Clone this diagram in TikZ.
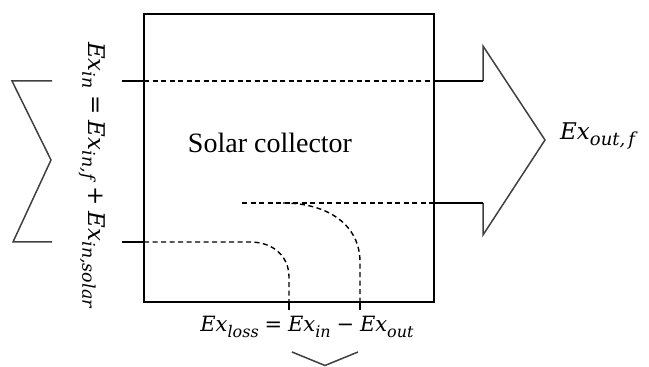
\documentclass[tikz,border=0pt]{standalone}
\usepackage{fontspec}
\setmainfont{Liberation Serif}
\newfontfamily\mfont{DejaVu Serif}
\newcommand\Exs[2][16]{{\mfont\itshape Ex\raisebox{-0.24em}{\fontsize{#1}{18}\selectfont #2}}}
\newcommand\rel[1]{\hspace{0.28em}{\mfont #1}\hspace{0.28em}}
\begin{document}
\begin{tikzpicture}[x=1pt,y=1pt,
  boxline/.style={line width=2.7pt,line join=miter},
  grayline/.style={line width=1.5pt,draw=black!75,line join=miter},
  stub/.style={line width=2.2pt,line cap=butt},
  dashline/.style={line width=1.4pt,dash pattern=on 5pt off 3.5pt},
  mathlbl/.style={inner sep=0pt,font=\fontsize{21}{25}\selectfont},
  biglbl/.style={inner sep=0pt,font=\fontsize{23}{27}\selectfont},
  lbl/.style={inner sep=0pt,font=\fontsize{28}{32}\selectfont}]
\useasboundingbox (0,0) rectangle (649,367);
% collector box
\draw[boxline] (144,353) rectangle (434,65);
% left chevron
\draw[grayline] (52,286) -- (12,286) -- (51,207) -- (13,125) -- (52,125);
\draw[stub] (122,286) -- (144,286);
\draw[stub] (122,125) -- (144,125);
% dashed flows
\draw[dashline] (144,286) -- (434,286);
\draw[dashline] (144,125) -- (250,125) .. controls (274,125) and (289,110) .. (289,90) -- (289,65);
\draw[dashline] (242,164) -- (434,164);
\draw[dashline] (283,164) .. controls (328,164) and (360,142) .. (360,105) -- (360,65);
\draw[line width=1.6pt] (289,65) -- (289,57);
\draw[line width=1.6pt] (360,65) -- (360,57);
% right arrow
\draw[grayline] (483,286) -- (483,321) -- (545,227) -- (483,132) -- (483,164);
\draw[stub] (434,286) -- (483,286);
\draw[stub] (434,164) -- (483,164);
% bottom chevron
\draw[grayline] (292,15) -- (325,1.5) -- (358,15);
% labels
\node[lbl,anchor=base] (title) at (270,214) {Solar collector};
\node[biglbl,anchor=base west] (out) at (560,227) {\Exs[18]{out,\,f}};
\node[mathlbl,anchor=base] (loss) at (307,35) {\Exs{loss}\rel{=}\Exs{in}\rel{−}\Exs{out}};
\node[biglbl,anchor=base,rotate=-90] (in) at (88,192) {\Exs[17.5]{in}\rel{=}\Exs[17.5]{in,f}\rel{+}\Exs[17.5]{in,solar}};
\end{tikzpicture}
\end{document}
